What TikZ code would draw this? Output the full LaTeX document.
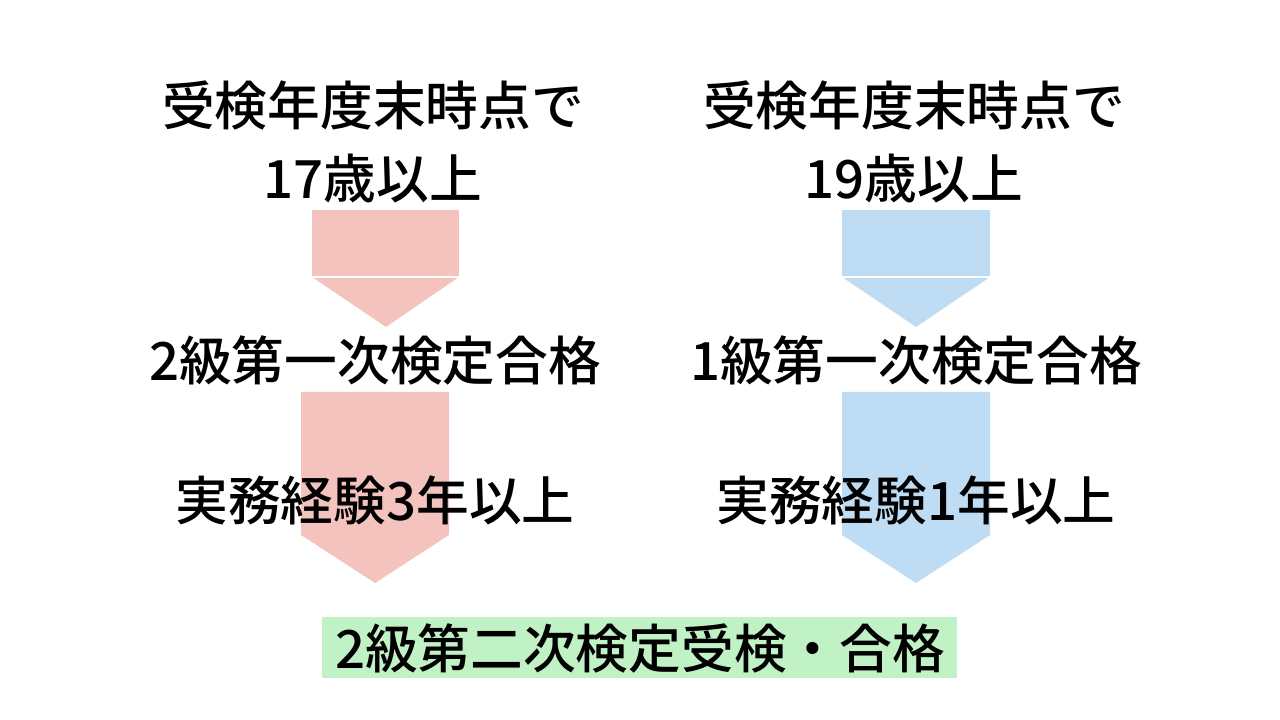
\documentclass[tikz,border=0pt]{standalone}
\usepackage{fontspec}
\setmainfont{Noto Sans CJK JP}[UprightFont={* Medium}]
\usepackage{tikz}
\usetikzlibrary{positioning}
\usetikzlibrary{calc}
\definecolor{leftpink}{HTML}{F4C3BE}
\definecolor{rightblue}{HTML}{BEDDF4}
\definecolor{goalgreen}{HTML}{C1F2C6}

\begin{document}
\begin{tikzpicture}[
    lbl/.style={font=\fontsize{15}{21}\selectfont, align=center, inner sep=0pt},
]
    \useasboundingbox (0,0) rectangle (12.8,7.2);

    % upper arrows
    \fill[leftpink] (3.12,5.10) rectangle (4.59,4.43);
    \fill[leftpink] (3.12,4.43) -- (4.59,4.43) -- (3.86,3.93) -- cycle;
    \draw[white, line width=0.4pt] (3.12,4.43) -- (4.59,4.43);
    \fill[rightblue] (8.42,5.10) rectangle (9.90,4.43);
    \fill[rightblue] (8.42,4.43) -- (9.90,4.43) -- (9.16,3.93) -- cycle;
    \draw[white, line width=0.4pt] (8.42,4.43) -- (9.90,4.43);

    % lower arrows
    \fill[leftpink] (3.01,3.28) -- (4.49,3.28) -- (4.49,1.85) -- (3.75,1.37) -- (3.01,1.85) -- cycle;
    \fill[rightblue] (8.42,3.28) -- (9.90,3.28) -- (9.90,1.85) -- (9.16,1.37) -- (8.42,1.85) -- cycle;

    % goal box
    \fill[goalgreen] (3.22,1.03) rectangle (9.57,0.42);

    \node[lbl] (age2) at (3.73,5.78) {受検年度末時点で\\17歳以上};
    \node[lbl] (age1) at (9.14,5.78) {受検年度末時点で\\19歳以上};
    \node[lbl] (pass2) at (3.75,3.60) {2級第一次検定合格};
    \node[lbl] (pass1) at (9.16,3.60) {1級第一次検定合格};
    \node[lbl] (exp3) at (3.75,2.20) {実務経験3年以上};
    \node[lbl] (exp1) at (9.16,2.20) {実務経験1年以上};
    \node[lbl] (goal) at (6.40,0.72) {2級第二次検定受検・合格};
\end{tikzpicture}
\end{document}
